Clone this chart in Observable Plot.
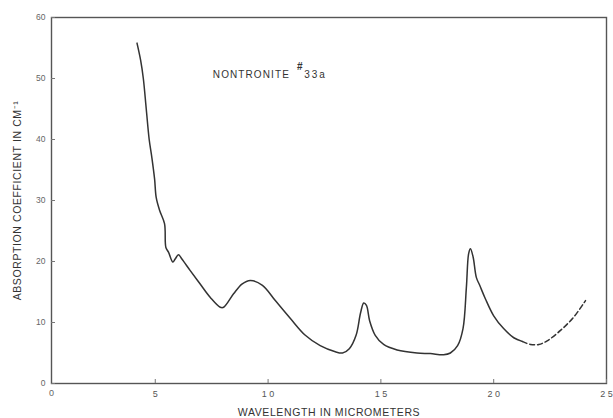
<!DOCTYPE html>
<html>
<head>
<meta charset="utf-8">
<script src="https://cdn.jsdelivr.net/npm/d3@7"></script>
<script src="https://cdn.jsdelivr.net/npm/@observablehq/plot@0.6"></script>
<style>
  html, body { margin: 0; padding: 0; background: #fff; }
  #chart svg { display: block; }
</style>
</head>
<body>
<div id="chart"></div>
<script>
// Measured spectrum (solid portion)
const solidWavelength = [4.19, 4.35, 4.47, 4.60, 4.73, 4.85, 4.97, 5.04, 5.19, 5.41, 5.47, 5.59, 5.78, 5.88, 6.03, 6.18, 6.55, 6.99, 7.44, 7.88, 8.03, 8.47, 8.84, 9.21, 9.75, 10.32, 10.98, 11.65, 12.31, 12.98, 13.3, 13.6, 13.9, 14.1, 14.24, 14.36, 14.50, 14.75, 15.12, 15.72, 16.6, 17.19, 17.78, 18.08, 18.4, 18.64, 18.79, 18.89, 18.97, 19.09, 19.23, 19.38, 19.63, 20.0, 20.44, 20.89, 21.26];
const solidAbsorption = [55.8, 53.0, 50.0, 45.0, 40.0, 37.0, 33.5, 30.5, 28.4, 26.2, 22.3, 21.5, 19.9, 20.4, 21.1, 20.4, 18.5, 16.3, 14.1, 12.5, 12.5, 14.7, 16.3, 16.9, 16.1, 13.6, 10.7, 7.9, 6.2, 5.2, 5.0, 5.7, 7.9, 11.6, 13.2, 12.8, 10.3, 7.9, 6.4, 5.5, 5.0, 4.9, 4.7, 5.0, 6.2, 9.0, 15.8, 21.3, 22.1, 20.7, 17.4, 16.1, 13.9, 11.1, 9.0, 7.5, 6.9];
// Extrapolated portion (dashed)
const dashedWavelength = [21.26, 21.63, 22.0, 22.37, 22.96, 23.55, 24.07];
const dashedAbsorption = [6.9, 6.4, 6.4, 7.0, 8.7, 10.9, 13.6];

const xTicks = [5, 10, 15, 20, 25];
const xTickLabels = ["5", "1 0", "1 5", "2 0", "2 5"];
const yTicks = [0, 10, 20, 30, 40, 50, 60];
const originLabel = ["0"];
const annotationMain = ["NONTRONITE"];
const annotationMark = ["#"];
const annotationId = ["33a"];

const solid = solidWavelength.map((w, i) => ({w, a: solidAbsorption[i]}));
const dashed = dashedWavelength.map((w, i) => ({w, a: dashedAbsorption[i]}));

const font = "Liberation Sans, Arial, sans-serif";
const xMin = 0.4;

const chart = Plot.plot({
  width: 613,
  height: 418,
  marginLeft: 51,
  marginRight: 7,
  marginTop: 17,
  marginBottom: 35,
  style: {fontFamily: font, background: "#fff"},
  x: {domain: [xMin, 25]},
  y: {domain: [0, 60]},
  marks: [
    Plot.frame({stroke: "#555", strokeWidth: 1.4}),
    Plot.axisX(xTicks, {
      tickSize: -4, tickPadding: 11, fontSize: 9, fill: "#555", stroke: "#777",
      tickFormat: (d) => xTickLabels[xTicks.indexOf(d)],
      label: "WAVELENGTH IN MICROMETERS", labelAnchor: "center", labelOffset: 32, labelArrow: "none"
    }),
    Plot.axisY(yTicks, {
      tickSize: -4, tickPadding: 10, fontSize: 8.5, fill: "#666", stroke: "#777",
      label: "ABSORPTION COEFFICIENT IN CM⁻¹", labelAnchor: "center", labelOffset: 38, labelArrow: "none"
    }),
    Plot.text(originLabel, {x: () => xMin, y: () => 0, text: (d) => d, dy: 10, fontSize: 9, fill: "#666"}),
    Plot.line(solid, {x: "w", y: "a", curve: "catmull-rom", stroke: "#333", strokeWidth: 1.5}),
    Plot.line(dashed, {x: "w", y: "a", curve: "catmull-rom", stroke: "#333", strokeWidth: 1.5, strokeDasharray: "5,3"}),
    Plot.text(annotationMain, {x: () => 7.55, y: () => 50.6, text: (d) => d, textAnchor: "start", fontSize: 10, fill: "#333"}),
    Plot.text(annotationMark, {x: () => 11.28, y: () => 51.9, text: (d) => d, textAnchor: "start", fontSize: 10, fontWeight: "bold", fill: "#333"}),
    Plot.text(annotationId, {x: () => 11.6, y: () => 50.6, text: (d) => d, textAnchor: "start", fontSize: 10, fill: "#333"})
  ]
});

// text styling
chart.querySelectorAll("[aria-label='x-axis label'] text, [aria-label='y-axis label'] text").forEach(t => {
  t.setAttribute("font-size", "10.5");
  t.setAttribute("fill", "#333");
  t.setAttribute("letter-spacing", "0.6");
});
chart.querySelectorAll("text").forEach(t => {
  if (t.textContent === annotationMain[0]) t.setAttribute("letter-spacing", "1.1");
  if (t.textContent === annotationId[0]) t.setAttribute("letter-spacing", "2");
});
document.getElementById("chart").appendChild(chart);
</script>
</body>
</html>
